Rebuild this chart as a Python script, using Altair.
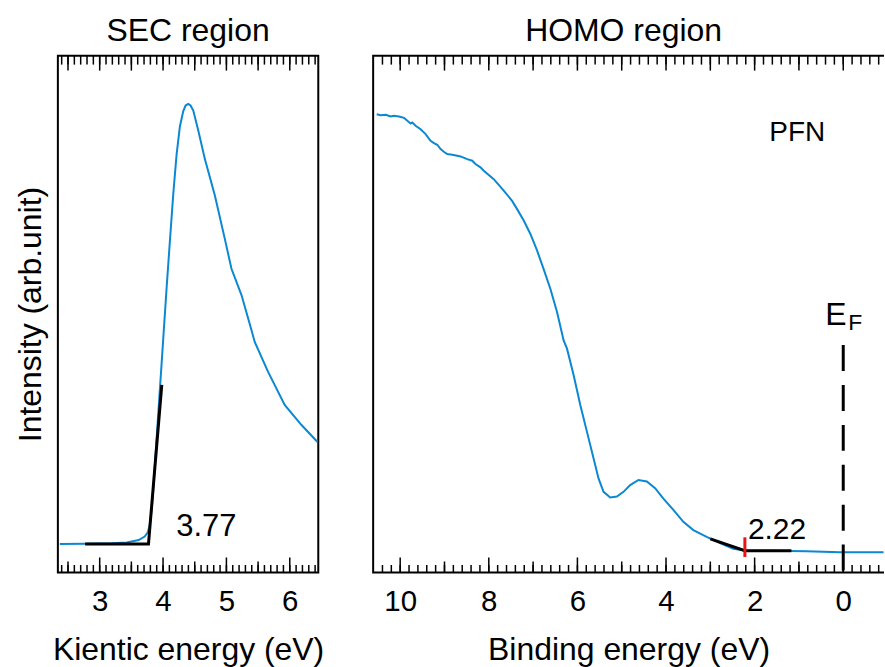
import altair as alt
import pandas as pd

FONT = "Liberation Sans"
BLUE = "#0a88d2"

# ---- SEC region (kinetic energy scan) ----
sec_ke = [2.371, 2.765, 3.19, 3.427, 3.616, 3.71, 3.757, 3.789, 3.82, 3.852,
          3.883, 3.915, 3.946, 3.978, 4.01, 4.057, 4.109, 4.162, 4.214, 4.266,
          4.319, 4.356, 4.398, 4.434, 4.477, 4.556, 4.66, 4.817, 4.975, 5.08,
          5.238, 5.395, 5.447, 5.658, 5.92, 6.182, 6.434]
sec_int = [0.055, 0.0554, 0.0564, 0.058, 0.0627, 0.0695, 0.0772, 0.0907, 0.1216, 0.1718,
           0.2297, 0.2896, 0.3475, 0.4054, 0.4653, 0.5521, 0.6429, 0.7336, 0.8089, 0.8629,
           0.8929, 0.9035, 0.9064, 0.9035, 0.8938, 0.8552, 0.7998, 0.7297, 0.6454, 0.5875,
           0.5367, 0.4691, 0.446, 0.388, 0.3243, 0.2857, 0.2529]
sec_cutoff = 3.77
sec_fit_ke = [2.77, sec_cutoff, 3.98]
sec_fit_int = [0.055, 0.055, 0.363]

# ---- HOMO region (binding energy scan) ----
homo_be = [10.53, 10.44, 10.327, 10.215, 10.14, 10.028, 9.915, 9.838, 9.764, 9.726,
           9.652, 9.539, 9.426, 9.314, 9.239, 9.163, 9.088, 9.014, 8.938, 8.825,
           8.712, 8.638, 8.487, 8.374, 8.3, 8.188, 8.113, 7.888, 7.663, 7.474,
           7.361, 7.212, 7.061, 6.911, 6.762, 6.611, 6.46, 6.311, 6.235, 6.086,
           5.935, 5.784, 5.636, 5.523, 5.41, 5.26, 5.109, 4.96, 4.809, 4.622,
           4.433, 4.246, 4.059, 3.834, 3.609, 3.383, 3.082, 2.782, 2.483, 2.181,
           1.582, 0.829, 0.079, -0.91]
homo_int = [0.8867, 0.8848, 0.8855, 0.8822, 0.8836, 0.8822, 0.8797, 0.8739, 0.8687, 0.8707,
            0.8643, 0.8577, 0.8481, 0.8353, 0.8307, 0.8276, 0.8191, 0.8141, 0.8095, 0.8083,
            0.8064, 0.805, 0.7998, 0.7967, 0.7902, 0.7838, 0.7774, 0.761, 0.739, 0.719,
            0.703, 0.681, 0.655, 0.623, 0.587, 0.549, 0.504, 0.449, 0.433, 0.382,
            0.324, 0.272, 0.221, 0.182, 0.156, 0.145, 0.147, 0.156, 0.169, 0.179,
            0.176, 0.163, 0.143, 0.121, 0.098, 0.082, 0.069, 0.057, 0.046, 0.042,
            0.042, 0.041, 0.039, 0.039]
homo_onset = 2.22
homo_fit_be = [3.0, homo_onset, 1.17]
homo_fit_int = [0.065, 0.042, 0.042]
onset_mark = [0.068, 0.030]          # extent of the red onset marker
fermi_top = 0.44                     # top of the dashed E_F line

# ---- tick values ----
sec_major = [3, 4, 5, 6]
sec_half = [2.5, 3.5, 4.5, 5.5]
sec_top_long = [2.5, 3.0, 3.5, 4.0, 4.5, 5.0, 5.5, 6.0]
sec_minor = [round(2.4 + 0.1 * i, 1) for i in range(41)]

homo_major = [10, 8, 6, 4, 2, 0]
homo_odd = [9, 7, 5, 3, 1]
homo_top_long = list(range(0, 11))
homo_minor = [round(-0.8 + 0.2 * i, 1) for i in range(57)]

W_SEC, W_HOMO, H = 261, 512, 518
TITLE_SIZE = 32

y_scale = alt.Scale(domain=[0, 1], nice=False, zero=False)
sec_x = alt.Scale(domain=[2.34, 6.45], nice=False, zero=False)
homo_x = alt.Scale(domain=[-0.92, 10.61], reverse=True, nice=False, zero=False)


def x_axis(values, title):
    return alt.Axis(values=values, title=title, ticks=False, tickSize=0, domain=False,
                    grid=False, labelFont=FONT, labelFontSize=29.5, labelColor="black",
                    labelPadding=38, labelBaseline="alphabetic", labelOverlap=False,
                    labelFlush=False, titleFont=FONT, titleFontSize=TITLE_SIZE,
                    titleFontWeight="normal", titleColor="black", titleY=87,
                    titleBaseline="alphabetic")


sec_x_axis = x_axis(sec_major, "Kientic energy (eV)")
homo_x_axis = x_axis(homo_major, "Binding energy (eV)")
sec_y_axis = alt.Axis(title="Intensity (arb.unit)", labels=False, ticks=False,
                      domain=False, grid=False, titleFont=FONT, titleFontSize=TITLE_SIZE,
                      titleFontWeight="normal", titleColor="black", titleAngle=270,
                      titleX=-17, titleY=H / 2, titleBaseline="alphabetic")


def tick_rules(values, length, side, scale, axis):
    df = pd.DataFrame({"v": values})
    if side == "bottom":
        y, y2 = alt.value(H), alt.value(H - length)
    else:
        y, y2 = alt.value(0), alt.value(length)
    return alt.Chart(df).mark_rule(color="black", strokeWidth=1.5).encode(
        x=alt.X("v:Q", scale=scale, axis=axis), y=y, y2=y2)


def frame_ticks(scale, axis, major, mid, top_long, minor):
    return [
        tick_rules(minor, 7.5, "bottom", scale, axis),
        tick_rules(mid, 11, "bottom", scale, axis),
        tick_rules(major, 15, "bottom", scale, axis),
        tick_rules(minor, 9, "top", scale, axis),
        tick_rules(top_long, 15, "top", scale, axis),
    ]


def panel_title(text, dx=0):
    return alt.Title(text, font=FONT, fontSize=TITLE_SIZE, fontWeight="normal",
                     color="black", offset=7, anchor="middle", dx=dx)


# ---------- SEC panel ----------
sec_X = lambda f: alt.X(f, scale=sec_x, axis=sec_x_axis)
sec_Y = lambda f: alt.Y(f, scale=y_scale, axis=sec_y_axis)

sec_df = pd.DataFrame({"ke": sec_ke, "intensity": sec_int})
sec_curve = alt.Chart(sec_df).mark_line(color=BLUE, strokeWidth=2, clip=True).encode(
    x=sec_X("ke:Q"), y=sec_Y("intensity:Q"))
sec_fit = alt.Chart(pd.DataFrame({"ke": sec_fit_ke, "intensity": sec_fit_int})).mark_line(
    color="black", strokeWidth=3).encode(x=sec_X("ke:Q"), y=sec_Y("intensity:Q"))
sec_label = alt.Chart(pd.DataFrame({"ke": [sec_cutoff], "intensity": [sec_fit_int[0]],
                                    "label": [f"{sec_cutoff:.2f}"]})).mark_text(
    font=FONT, fontSize=31, color="black", align="center", baseline="alphabetic",
    dx=58, dy=-8).encode(x=sec_X("ke:Q"), y=sec_Y("intensity:Q"), text="label:N")

sec_panel = alt.layer(
    sec_curve, sec_fit, sec_label,
    *frame_ticks(sec_x, sec_x_axis, sec_major, sec_half, sec_top_long, sec_minor),
).properties(
    width=W_SEC, height=H, title=panel_title("SEC region"),
    view=alt.ViewBackground(stroke="black", strokeWidth=2),
)

# ---------- HOMO panel ----------
homo_X = lambda f: alt.X(f, scale=homo_x, axis=homo_x_axis)
homo_Y = lambda f: alt.Y(f, scale=y_scale, axis=None)

homo_df = pd.DataFrame({"be": homo_be, "intensity": homo_int})
homo_curve = alt.Chart(homo_df).mark_line(color=BLUE, strokeWidth=2, clip=True).encode(
    x=homo_X("be:Q"), y=homo_Y("intensity:Q"))
homo_fit = alt.Chart(pd.DataFrame({"be": homo_fit_be, "intensity": homo_fit_int})).mark_line(
    color="black", strokeWidth=3).encode(x=homo_X("be:Q"), y=homo_Y("intensity:Q"))
onset_tick = alt.Chart(pd.DataFrame({"be": [homo_onset], "hi": [onset_mark[0]],
                                     "lo": [onset_mark[1]]})).mark_rule(
    color="#ee1111", strokeWidth=3).encode(x=homo_X("be:Q"), y=homo_Y("hi:Q"), y2="lo:Q")
onset_label = alt.Chart(pd.DataFrame({"be": [homo_onset], "intensity": [homo_fit_int[1]],
                                      "label": [f"{homo_onset:.2f}"]})).mark_text(
    font=FONT, fontSize=30, color="black", align="left", baseline="alphabetic",
    dx=3, dy=-12).encode(x=homo_X("be:Q"), y=homo_Y("intensity:Q"), text="label:N")
fermi_df = pd.DataFrame({"be": [0.0], "top": [fermi_top], "bottom": [0.0]})
fermi_line = alt.Chart(fermi_df).mark_rule(
    color="black", strokeWidth=3, strokeDash=[26, 14]).encode(
    x=homo_X("be:Q"), y=homo_Y("top:Q"), y2="bottom:Q")
fermi_e = alt.Chart(fermi_df).mark_text(
    text="E", font=FONT, fontSize=32, color="black", align="left",
    baseline="alphabetic", dx=-18, dy=-20).encode(x=homo_X("be:Q"), y=homo_Y("top:Q"))
fermi_f = alt.Chart(fermi_df).mark_text(
    text="F", font=FONT, fontSize=23, color="black", align="left",
    baseline="alphabetic", dx=5, dy=-15).encode(x=homo_X("be:Q"), y=homo_Y("top:Q"))
sample_label = alt.Chart(pd.DataFrame({"name": ["PFN"]})).mark_text(
    font=FONT, fontSize=28, color="black", align="center", baseline="alphabetic").encode(
    x=alt.value(425), y=alt.value(86), text="name:N")

homo_panel = alt.layer(
    homo_curve, homo_fit, onset_tick, onset_label, fermi_line, fermi_e, fermi_f,
    sample_label,
    *frame_ticks(homo_x, homo_x_axis, homo_major, homo_odd, homo_top_long, homo_minor),
).properties(
    width=W_HOMO, height=H, title=panel_title("HOMO region", dx=-5),
    # open frame: top, bottom and left edges only
    view=alt.ViewBackground(stroke="black", strokeWidth=2,
                            strokeDash=[W_HOMO, H, W_HOMO + H]),
)

chart = alt.hconcat(sec_panel, homo_panel, spacing=55, bounds="flush").properties(
    padding={"left": 13, "top": 13, "right": 0, "bottom": 2},
    background="white",
)

chart.save("out.html", embed_options={"renderer": "svg", "actions": False})
